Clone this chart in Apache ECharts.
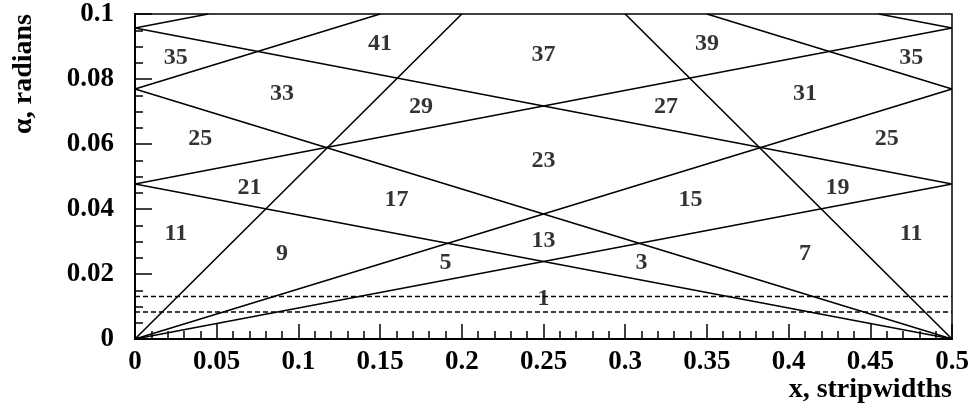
<!DOCTYPE html>
<html>
<head>
<meta charset="utf-8">
<script src="https://cdn.jsdelivr.net/npm/echarts@6/dist/echarts.min.js"></script>
<style>html,body{margin:0;padding:0;background:#fff;}#c{width:975px;height:410px;}</style>
</head>
<body>
<div id="c"></div>
<script>
// ---- data (in axis units) ----
const xTickLabels = ['0','0.05','0.1','0.15','0.2','0.25','0.3','0.35','0.4','0.45','0.5'];
const yTickLabels = ['0','0.02','0.04','0.06','0.08','0.1'];

// solid boundary lines: [x1, y1, x2, y2]
const risingLines = [
  [0, 0, 0.5, 0.0477],
  [0, 0, 0.5, 0.0769],
  [0, 0, 0.2, 0.1],
  [0, 0.0477, 0.5, 0.0957],
  [0, 0.0769, 0.15, 0.1],
  [0, 0.0957, 0.0448, 0.1]
];
const fallingLines = [
  [0, 0.0477, 0.5, 0],
  [0, 0.0769, 0.5, 0],
  [0.3, 0.1, 0.5, 0],
  [0, 0.0957, 0.5, 0.0477],
  [0.35, 0.1, 0.5, 0.0769],
  [0.4552, 0.1, 0.5, 0.0957]
];
// dashed horizontal lines (alpha values)
const dashedLevels = [0.0131, 0.0083];

// region numbers
const regionNames = ['35','41','37','39','35','33','29','27','31','25','23','25','21','19','17','15','11','9','13','7','11','5','3','1'];
const regionX = [0.025,0.150,0.250,0.350,0.475,0.090,0.175,0.325,0.410,0.040,0.250,0.460,0.070,0.430,0.160,0.340,0.025,0.090,0.250,0.410,0.475,0.190,0.310,0.250];
const regionY = [0.0865,0.0909,0.0875,0.0909,0.0865,0.0753,0.0716,0.0716,0.0753,0.0615,0.0547,0.0615,0.0465,0.0465,0.0429,0.0429,0.0323,0.0262,0.0302,0.0262,0.0323,0.0235,0.0235,0.0123];

// ---- chart ----
const FONT = '"Liberation Serif", "DejaVu Serif", serif';
const series = [];
risingLines.concat(fallingLines).forEach(s => {
  series.push({
    type: 'line', data: [[s[0], s[1]], [s[2], s[3]]],
    symbol: 'none', silent: true, animation: false, clip: true,
    lineStyle: { color: '#000', width: 1.6 }, z: 3
  });
});
dashedLevels.forEach(v => {
  series.push({
    type: 'line', data: [[0, v], [0.5, v]],
    symbol: 'none', silent: true, animation: false,
    lineStyle: { color: '#000', width: 1.5, type: [5, 3] }, z: 3
  });
});
series.push({
  type: 'scatter', symbolSize: 0, silent: true, animation: false, z: 5,
  data: regionNames.map((n, i) => [regionX[i], regionY[i], n]),
  label: {
    show: true, position: 'inside', formatter: p => p.data[2],
    color: '#000', fontFamily: FONT, fontWeight: 'bold', fontSize: 24
  }
});

const chart = echarts.init(document.getElementById('c'), null, { renderer: 'canvas' });
chart.setOption({
  backgroundColor: '#fff',
  animation: false,
  grid: { left: 135, right: 23, top: 14, bottom: 71, show: true, borderColor: '#000', borderWidth: 1.5, backgroundColor: 'transparent' },
  xAxis: {
    type: 'value', min: 0, max: 0.5, interval: 0.05,
    name: 'x, stripwidths', nameLocation: 'end', nameGap: 0,
    nameTextStyle: { color: '#000', fontFamily: FONT, fontWeight: 'bold', fontSize: 28, align: 'right', verticalAlign: 'top', padding: [37, 0, 0, 0] },
    axisLine: { show: true, lineStyle: { color: '#000', width: 2 } },
    axisTick: { show: true, inside: true, length: 15, lineStyle: { color: '#000', width: 1.5 } },
    minorTick: { show: true, splitNumber: 5, length: 8, lineStyle: { color: '#000', width: 1.5 } },
    axisLabel: { color: '#000', fontFamily: FONT, fontWeight: 'bold', fontSize: 27, margin: 10,
      formatter: (v, i) => xTickLabels[i] },
    splitLine: { show: false }
  },
  yAxis: {
    type: 'value', min: 0, max: 0.1, interval: 0.02,
    name: 'α, radians', nameLocation: 'end', nameGap: 0, nameRotate: 90,
    nameTextStyle: { color: '#000', fontFamily: FONT, fontWeight: 'bold', fontSize: 28, align: 'right', verticalAlign: 'bottom', padding: [0, 0, 97, 0] },
    axisLine: { show: true, lineStyle: { color: '#000', width: 2 } },
    axisTick: { show: true, inside: true, length: 17, lineStyle: { color: '#000', width: 1.5 } },
    minorTick: { show: true, splitNumber: 4, length: 8, lineStyle: { color: '#000', width: 1.5 } },
    axisLabel: { color: '#000', fontFamily: FONT, fontWeight: 'bold', fontSize: 27, margin: 21,
      formatter: (v, i) => yTickLabels[i] },
    splitLine: { show: false }
  },
  series: series
});
</script>
</body>
</html>
